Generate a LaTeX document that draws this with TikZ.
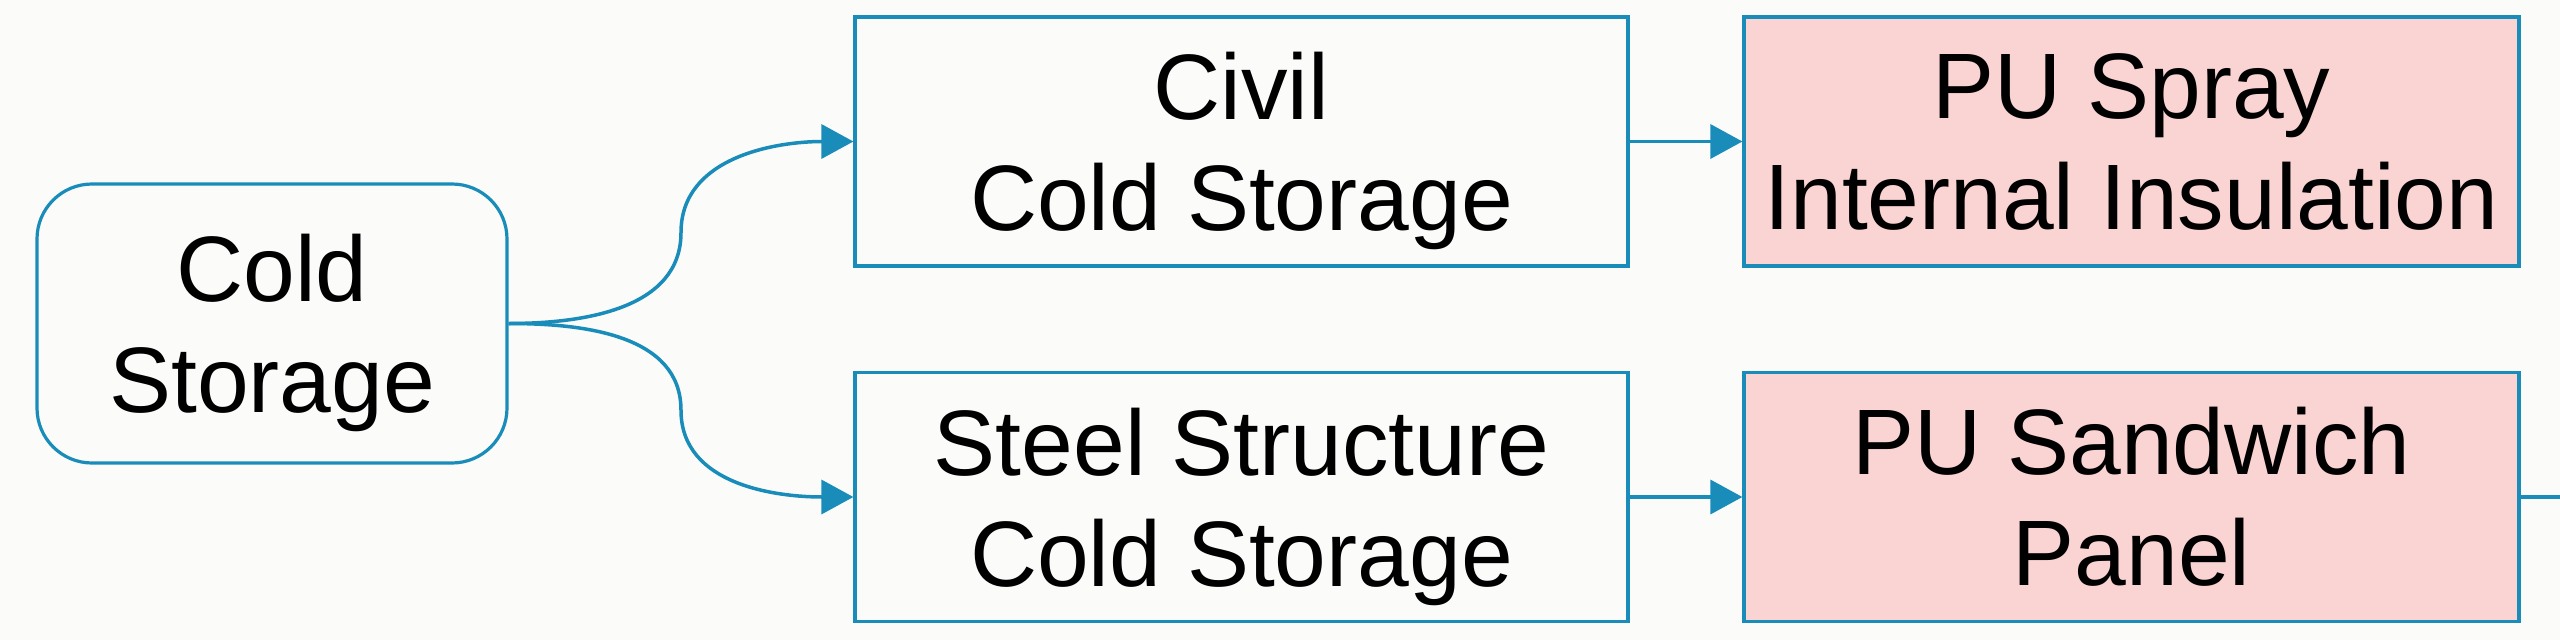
\documentclass[tikz,border=0pt]{standalone}
\usepackage{fontspec}
\setmainfont{Liberation Sans}
\usetikzlibrary{arrows.meta,calc}
\definecolor{linecol}{RGB}{26,140,186}
\definecolor{pinkfill}{RGB}{250,211,211}
\definecolor{bgcol}{RGB}{251,252,250}
\begin{document}
\begin{tikzpicture}[x=1pt,y=-1pt,
  lbl/.style={align=center,inner sep=0pt,font=\fontsize{93}{111}\selectfont,text=black},
  box/.style={lbl,draw=linecol,line width=3.2pt,minimum width=773pt,minimum height=249pt},
  rootbox/.style={lbl,draw=linecol,line width=3.2pt,rounded corners=55pt,minimum width=470pt,minimum height=279pt},
  pinkbox/.style={box,fill=pinkfill,minimum width=775pt},
  conn/.style={draw=linecol,line width=3.5pt,-{Triangle[length=32pt,width=34pt]}},
  plain/.style={draw=linecol,line width=3.5pt}]
\fill[bgcol] (0,0) rectangle (2560,640);
\useasboundingbox (0,0) rectangle (2560,640);
\node[rootbox] (cold) at (272,323.5) {Cold\\\smash{Storage}};
\node[box] (civil) at (1241.5,141.5) {Civil\\\smash{Cold Storage}};
\node[box] (steel) at (1241.5,497) {Steel Structure\\\smash{Cold Storage}};
\node[pinkbox] (spray) at (2131.5,141.5) {PU Spray\\Internal Insulation};
\node[pinkbox] (sandwich) at (2131.5,497) {PU Sandwich\\Panel};
\coordinate (forkup) at ($(cold.east)!0.5!(civil.west)$);
\coordinate (forkdown) at ($(cold.east)!0.5!(steel.west)$);
\coordinate (outend) at (2560,497);
\draw[conn] (cold.east) to[out=0,in=-90] (forkup) to[out=90,in=180] (civil.west);
\draw[conn] (cold.east) to[out=0,in=90] (forkdown) to[out=-90,in=180] (steel.west);
\draw[conn] (civil.east) -- (spray.west);
\draw[conn] (steel.east) -- (sandwich.west);
\draw[plain] (sandwich.east) -- (outend);
\end{tikzpicture}
\end{document}
